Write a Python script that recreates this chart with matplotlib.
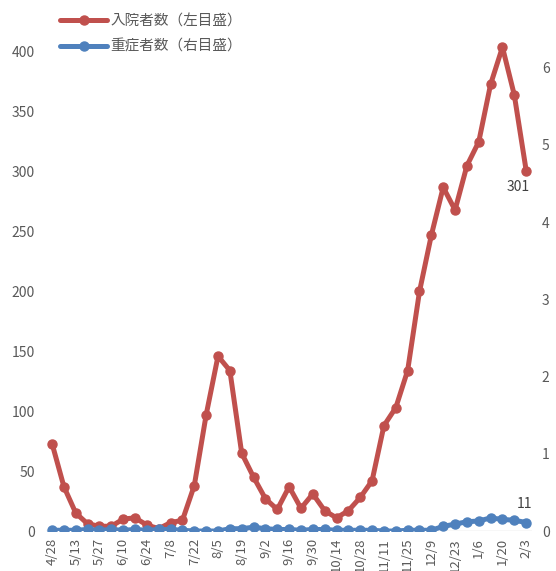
import matplotlib
matplotlib.use('Agg')
import matplotlib.pyplot as plt
import numpy as np

plt.rcParams['font.family'] = ['Noto Sans CJK JP', 'DejaVu Sans']

dates = ['4/28', '5/6', '5/13', '5/20', '5/27', '6/3', '6/10', '6/17', '6/24', '7/1',
         '7/8', '7/15', '7/22', '7/29', '8/5', '8/12', '8/19', '8/26', '9/2', '9/9',
         '9/16', '9/23', '9/30', '10/7', '10/14', '10/21', '10/28', '11/4', '11/11', '11/18',
         '11/25', '12/2', '12/9', '12/16', '12/23', '12/30', '1/6', '1/13', '1/20', '1/27',
         '2/3']
hospitalized = [73, 37, 15, 6, 4, 4, 10, 11, 5, 2,
                7, 9, 38, 97, 146, 134, 65, 45, 27, 18,
                37, 19, 31, 17, 11, 17, 28, 42, 88, 103,
                134, 200, 247, 287, 268, 305, 325, 373, 404, 364,
                301]
severe = [1, 1, 1, 2, 1, 2, 1, 2, 1, 2,
          2, 1, 0, 0, 0, 3, 3, 5, 3, 2,
          2, 1, 2, 2, 1, 1, 1, 1, 0, 0,
          1, 1, 1, 6, 9, 12, 13, 17, 15, 14,
          11]
label_red = '入院者数（左目盛）'
label_blue = '重症者数（右目盛）'

red = '#C0504D'
blue = '#4F81BD'
txt = '#595959'

x = np.arange(len(dates))
fig = plt.figure(figsize=(5.56, 5.71), dpi=100)
ax = fig.add_axes([0.083, 0.070, 0.874, 0.860])
ax2 = ax.twinx()

# right scale shown in hundreds
left_max = 410
right_max = left_max * 1.1975 / 0.772
ax.set_ylim(0, left_max)
ax2.set_ylim(0, right_max)
ax.set_xlim(-0.5, len(dates) - 0.5)

ax.axhline(0, color='#D9D9D9', lw=1, zorder=0)
l1, = ax.plot(x, hospitalized, color=red, lw=3.6, marker='o', ms=6.5,
              solid_capstyle='round', label=label_red, zorder=3)
l2, = ax2.plot(x, severe, color=blue, lw=3.6, marker='o', ms=6.5,
               solid_capstyle='round', label=label_blue, zorder=3)

ax.set_yticks(np.arange(0, 401, 50))
ax2.set_yticks(np.arange(0, 601, 100))
ax2.set_yticklabels([str(v // 100) for v in range(0, 601, 100)])
ax.set_xticks(x[::2])
ax.set_xticklabels(dates[::2], rotation=90, ha='center', va='top')

for a in (ax, ax2):
    for s in a.spines.values():
        s.set_visible(False)
    a.tick_params(length=0, colors=txt, labelsize=10)
ax.tick_params(axis='y', pad=8)
ax2.tick_params(axis='y', pad=7)
ax.tick_params(axis='x', pad=5, labelsize=9.5)

ax.annotate(str(hospitalized[-1]), (x[-1], hospitalized[-1]), xytext=(-6, -12),
            textcoords='offset points', ha='center', va='center', color='#404040', fontsize=10)
ax2.annotate(str(severe[-1]), (x[-1], severe[-1]), xytext=(-1, 13),
             textcoords='offset points', ha='center', va='center', color='#404040', fontsize=10)

fig.legend(handles=[l1, l2], loc='upper left', bbox_to_anchor=(0.085, 0.998),
           frameon=False, fontsize=10.5, labelcolor=txt, handlelength=3.2,
           handletextpad=0.25, labelspacing=0.8)

fig.savefig('out.png', dpi=100)
